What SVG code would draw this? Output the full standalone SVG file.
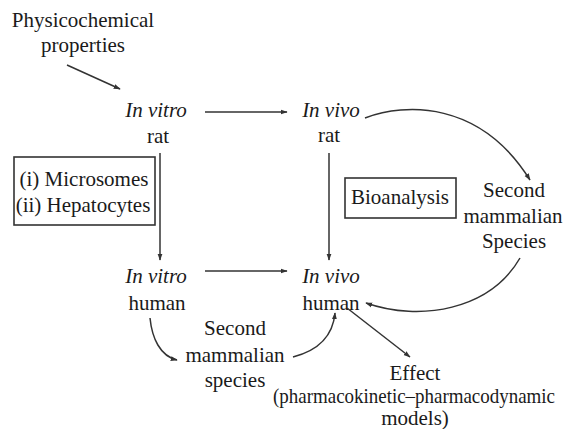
<svg xmlns="http://www.w3.org/2000/svg" width="563" height="429" viewBox="0 0 563 429">
<defs>
<marker id="ah" viewBox="0 0 10 10" refX="9" refY="5" markerWidth="7" markerHeight="7" orient="auto" markerUnits="userSpaceOnUse">
<path d="M0,1.5 L10,5 L0,8.5 z" fill="#333"/>
</marker>
</defs>
<rect width="563" height="429" fill="#fff"/>
<g fill="#1a1a1a" text-anchor="middle">
<g id="physchem"><text font-family="Liberation Serif" font-size="21" x="83" y="27">Physicochemical</text><text font-family="Liberation Serif" font-size="21" x="83" y="52">properties</text></g>
<g id="invitro-rat"><text font-family="Liberation Serif" font-size="21" font-style="italic" x="156" y="117">In vitro</text><text font-family="Liberation Serif" font-size="21" x="158" y="143">rat</text></g>
<g id="invivo-rat"><text font-family="Liberation Serif" font-size="21" font-style="italic" x="331" y="117">In vivo</text><text font-family="Liberation Serif" font-size="21" x="329" y="142">rat</text></g>
<g id="methods"><rect fill="none" stroke="#333" stroke-width="1.6" x="14" y="157" width="141" height="68"/><text font-family="Liberation Serif" font-size="21" x="84" y="186">(i) Microsomes</text><text font-family="Liberation Serif" font-size="21" x="83" y="212">(ii) Hepatocytes</text></g>
<g id="bioanalysis"><rect fill="none" stroke="#333" stroke-width="1.6" x="345" y="178" width="111" height="40"/><text font-family="Liberation Serif" font-size="21" x="400" y="204">Bioanalysis</text></g>
<g id="second-right"><text font-family="Liberation Serif" font-size="21" x="514" y="197">Second</text><text font-family="Liberation Serif" font-size="21" x="513" y="223">mammalian</text><text font-family="Liberation Serif" font-size="21" x="514" y="248">Species</text></g>
<g id="invitro-human"><text font-family="Liberation Serif" font-size="21" font-style="italic" x="156" y="283">In vitro</text><text font-family="Liberation Serif" font-size="21" x="157" y="310">human</text></g>
<g id="invivo-human"><text font-family="Liberation Serif" font-size="21" font-style="italic" x="331" y="283">In vivo</text><text font-family="Liberation Serif" font-size="21" x="331" y="310">human</text></g>
<g id="second-bottom"><text font-family="Liberation Serif" font-size="21" x="235" y="335">Second</text><text font-family="Liberation Serif" font-size="21" x="235" y="362">mammalian</text><text font-family="Liberation Serif" font-size="21" x="235" y="387">species</text></g>
<g id="effect"><text font-family="Liberation Serif" font-size="21" x="415" y="380">Effect</text><text font-family="Liberation Serif" font-size="21" x="414" y="403" textLength="282" lengthAdjust="spacingAndGlyphs">(pharmacokinetic&#8211;pharmacodynamic</text><text font-family="Liberation Serif" font-size="21" x="415" y="425">models)</text></g>
</g>
<g id="connectors" fill="none" stroke="#333" stroke-width="1.5" marker-end="url(#ah)">
<line x1="67" y1="65" x2="120" y2="89"/>
<line x1="205" y1="112" x2="287" y2="112"/>
<line x1="160" y1="153" x2="160" y2="260"/>
<line x1="329" y1="153" x2="329" y2="260"/>
<line x1="205" y1="271" x2="287" y2="271"/>
<path d="M365,118 C405,103 480,100 530,180"/>
<path d="M520,258 C490,310 420,322 366,303"/>
<path d="M150,318 C152,338 160,356 177,360"/>
<path d="M293,357 C320,350 333,335 335,313"/>
<line x1="347" y1="308" x2="410" y2="357"/>
</g>
</svg>
